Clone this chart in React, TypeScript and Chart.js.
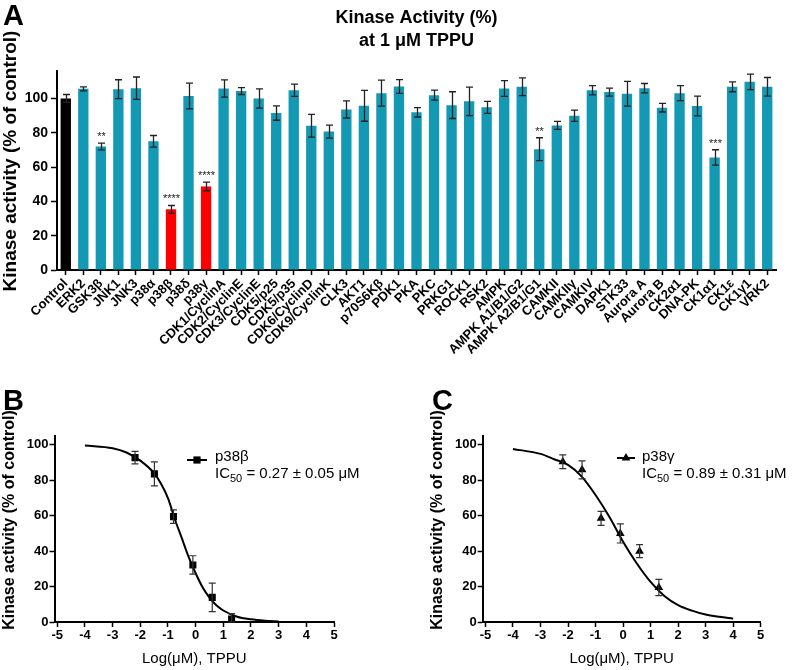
import React, { useEffect, useRef } from 'react';
import { Chart, registerables } from 'chart.js';

Chart.register(...registerables);

const FONT = '"Liberation Sans", Arial, Helvetica, sans-serif';

// ---------- Panel A data ----------
const kinaseLabels = [
  'Control', 'ERK2', 'GSK3β', 'JNK1', 'JNK3', 'p38α', 'p38β', 'p38δ', 'p38γ',
  'CDK1/CyclinA', 'CDK2/CyclinE', 'CDK3/CyclinE', 'CDK5/p25', 'CDK5/p35', 'CDK6/CyclinD',
  'CDK9/CyclinK', 'CLK3', 'AKT1', 'p70S6Kβ', 'PDK1', 'PKA', 'PKC', 'PRKG1', 'ROCK1', 'RSK2',
  'AMPK', 'AMPK A1/B1/G2', 'AMPK A2/B1/G1', 'CAMKII', 'CAMKIIγ', 'CAMKIV', 'DAPK1', 'STK33',
  'Aurora A', 'Aurora B', 'CK2α1', 'DNA-PK', 'CK1α1', 'CK1ε', 'CK1γ1', 'VRK2',
];
const kinaseActivity = [
  100, 105.6, 72, 105.4, 106, 75, 35.4, 101.4, 48.7,
  105.8, 104.3, 100, 91.5, 104.8, 84.1,
  80.7, 93.6, 95.7, 103.1, 107, 91.9, 101.9, 96.1, 98.3, 94.8,
  105.8, 106.8, 70.4, 84.3, 89.9, 104.8, 103.7, 102.7,
  106, 94.6, 103.1, 95.6, 65.6, 106.8, 109.7, 106.8,
];
const kinaseError = [
  2.3, 1.2, 2, 5.5, 6.5, 3.4, 2.2, 7.5, 2.5,
  5, 2, 5.6, 4.2, 3.6, 6.6,
  3.8, 5, 9, 7.6, 4, 2.7, 2.9, 7.8, 8.3, 3.5,
  4.6, 5.2, 6.7, 2.3, 3.3, 2.7, 2.3, 7.2,
  2.7, 2.5, 4.4, 5.7, 4.5, 2.9, 4.5, 5.4,
];
const kinaseSignificance = [
  '', '', '**', '', '', '', '****', '', '****',
  '', '', '', '', '', '',
  '', '', '', '', '', '', '', '', '', '',
  '', '', '**', '', '', '', '', '',
  '', '', '', '', '***', '', '', '',
];
const controlKinase = 'Control';
const highlightedKinases = ['p38β', 'p38γ'];
const activityTicks = [0, 20, 40, 60, 80, 100];

// ---------- Panels B / C data ----------
const logConcentration = [-2.19, -1.49, -0.8, -0.1, 0.6, 1.3];
const logTicks = [-5, -4, -3, -2, -1, 0, 1, 2, 3, 4, 5];
const doseTicks = [0, 20, 40, 60, 80, 100];

const p38betaActivity = [92.8, 83.6, 59.5, 32.2, 13.9, 1.7];
const p38betaError = [3.5, 6.8, 3.8, 5.2, 8.0, 3.0];
const p38betaFitX = [-4, -3, -2.5, -2, -1.5, -1.25, -1, -0.75, -0.5, -0.25, 0, 0.25, 0.5, 0.75, 1, 1.5, 2, 2.5, 3];
const p38betaFitY = [99.6, 98.1, 95.7, 91.1, 84.0, 78.0, 69.9, 58.0, 47.3, 36.6, 27.5, 19.6, 13.8, 9.4, 6.5, 3.0, 1.5, 0.7, 0.3];

const p38gammaActivity = [90.5, 85.9, 58.5, 50.0, 40.0, 19.5];
const p38gammaError = [3.9, 5.1, 4.0, 5.4, 3.7, 4.6];
const p38gammaFitX = [-4, -3, -2.5, -2, -1.5, -1, -0.5, 0, 0.5, 1, 1.5, 2, 2.5, 3, 3.5, 4];
const p38gammaFitY = [97.7, 94.9, 91.9, 88.7, 82.1, 71.7, 59.4, 45.3, 33.0, 22.6, 14.7, 9.5, 6.4, 4.2, 2.9, 1.9];

const TEAL = '#1399b3';

function drawRotated(ctx: CanvasRenderingContext2D, text: string, x: number, y: number, font: string) {
  ctx.save();
  ctx.translate(x, y);
  ctx.rotate(-Math.PI / 2);
  ctx.font = font;
  ctx.fillStyle = '#000';
  ctx.textAlign = 'center';
  ctx.textBaseline = 'middle';
  ctx.fillText(text, 0, 0);
  ctx.restore();
}

function drawLetter(ctx: CanvasRenderingContext2D, letter: string, x: number, y: number) {
  ctx.save();
  ctx.font = `bold 29px ${FONT}`;
  ctx.fillStyle = '#000';
  ctx.textAlign = 'left';
  ctx.textBaseline = 'alphabetic';
  ctx.fillText(letter, x, y);
  ctx.restore();
}

function buildBarChart(canvas: HTMLCanvasElement) {
  const colors = kinaseLabels.map((k) =>
    k === controlKinase ? '#000000' : highlightedKinases.includes(k) ? '#ff0000' : TEAL
  );
  const plugin = {
    id: 'panelA',
    afterDatasetsDraw(chart: any) {
      const { ctx, scales, chartArea } = chart;
      const x = scales.x;
      const y = scales.y;
      ctx.save();
      ctx.strokeStyle = '#222';
      ctx.lineWidth = 1.3;
      kinaseActivity.forEach((v, i) => {
        const cx = Math.round(x.getPixelForValue(i)) + 0.5;
        const top = y.getPixelForValue(v + kinaseError[i]);
        const bot = y.getPixelForValue(v - kinaseError[i]);
        ctx.beginPath();
        ctx.moveTo(cx, top);
        ctx.lineTo(cx, bot);
        ctx.moveTo(cx - 3.5, top);
        ctx.lineTo(cx + 3.5, top);
        ctx.moveTo(cx - 3.5, bot);
        ctx.lineTo(cx + 3.5, bot);
        ctx.stroke();
        if (kinaseSignificance[i]) {
          ctx.fillStyle = '#222';
          ctx.font = `11px ${FONT}`;
          ctx.textAlign = 'center';
          ctx.textBaseline = 'alphabetic';
          ctx.fillText(kinaseSignificance[i], cx, top - 3);
        }
      });
      ctx.restore();

      // title
      const midX = (chartArea.left + chartArea.right) / 2;
      ctx.save();
      ctx.fillStyle = '#000';
      ctx.font = `bold 18px ${FONT}`;
      ctx.textAlign = 'center';
      ctx.textBaseline = 'alphabetic';
      ctx.fillText('Kinase Activity (%)', midX, 23);
      ctx.fillText('at 1 μM TPPU', midX, 45.5);
      ctx.restore();

      drawRotated(ctx, 'Kinase activity (% of control)', 11, 161, `bold 19px ${FONT}`);
      drawLetter(ctx, 'A', 3, 25);
    },
  };

  return new Chart(canvas, {
    type: 'bar',
    data: {
      labels: kinaseLabels,
      datasets: [
        {
          data: kinaseActivity,
          backgroundColor: colors,
          borderWidth: 0,
          barPercentage: 0.59,
          categoryPercentage: 1,
        },
      ],
    },
    options: {
      animation: false,
      responsive: false,
      layout: { padding: { top: 71, right: 24, left: 0, bottom: 0 } },
      plugins: { legend: { display: false }, tooltip: { enabled: false }, title: { display: false } },
      scales: {
        x: {
          offset: true,
          grid: {
            offset: false,
            drawOnChartArea: false,
            drawTicks: true,
            tickLength: 5,
            color: '#000',
            tickColor: '#000',
            tickWidth: 1.5,
          },
          border: { display: true, color: '#000', width: 2 },
          ticks: {
            autoSkip: false,
            minRotation: 45,
            maxRotation: 45,
            padding: 1,
            color: '#000',
            font: { family: FONT, size: 13, weight: 'bold' },
          },
          afterFit: (s: any) => {
            s.height = 100;
          },
        },
        y: {
          min: 0,
          max: 116,
          afterBuildTicks: (s: any) => {
            s.ticks = activityTicks.map((v) => ({ value: v }));
          },
          grid: {
            drawOnChartArea: false,
            drawTicks: true,
            tickLength: 6,
            color: '#000',
            tickColor: '#000',
            tickWidth: 1.5,
          },
          border: { display: true, color: '#000', width: 2 },
          ticks: {
            padding: 3,
            color: '#000',
            font: { family: FONT, size: 14, weight: 'bold' },
          },
          afterFit: (s: any) => {
            s.width = 57;
          },
        },
      },
    } as any,
    plugins: [plugin],
  });
}

interface DoseOpts {
  fitX: number[];
  fitY: number[];
  mean: number[];
  err: number[];
  pointStyle: string;
  pointRadius: number;
  yAxisWidth: number;
  padRight: number;
  letter: string;
  letterX: number;
  yTitleX: number;
  legendX0: number;
  legendX1: number;
  legendY: number;
  textX: number;
  name: string;
  ic50: string;
}

function buildDoseChart(canvas: HTMLCanvasElement, o: DoseOpts) {
  const plugin = {
    id: 'dose' + o.letter,
    afterDatasetsDraw(chart: any) {
      const { ctx, scales } = chart;
      const x = scales.x;
      const y = scales.y;
      ctx.save();
      ctx.strokeStyle = '#333';
      ctx.lineWidth = 1.2;
      o.mean.forEach((v, i) => {
        const cx = x.getPixelForValue(logConcentration[i]);
        const top = y.getPixelForValue(v + o.err[i]);
        const bot = y.getPixelForValue(Math.max(v - o.err[i], 0));
        ctx.beginPath();
        ctx.moveTo(cx, top);
        ctx.lineTo(cx, bot);
        ctx.moveTo(cx - 3.5, top);
        ctx.lineTo(cx + 3.5, top);
        ctx.moveTo(cx - 3.5, bot);
        ctx.lineTo(cx + 3.5, bot);
        ctx.stroke();
      });
      ctx.restore();

      // legend
      ctx.save();
      ctx.strokeStyle = '#000';
      ctx.lineWidth = 2;
      ctx.beginPath();
      ctx.moveTo(o.legendX0, o.legendY);
      ctx.lineTo(o.legendX1, o.legendY);
      ctx.stroke();
      const mx = (o.legendX0 + o.legendX1) / 2;
      ctx.fillStyle = '#000';
      ctx.beginPath();
      if (o.pointStyle === 'rect') {
        ctx.rect(mx - 3.6, o.legendY - 3.6, 7.2, 7.2);
      } else {
        const r = o.pointRadius;
        ctx.moveTo(mx, o.legendY - r);
        ctx.lineTo(mx + r * 0.866, o.legendY + r * 0.5);
        ctx.lineTo(mx - r * 0.866, o.legendY + r * 0.5);
        ctx.closePath();
      }
      ctx.fill();

      ctx.textAlign = 'left';
      ctx.textBaseline = 'alphabetic';
      ctx.font = `15px ${FONT}`;
      ctx.fillText(o.name, o.textX, 81);
      let tx = o.textX;
      ctx.fillText('IC', tx, 98);
      tx += ctx.measureText('IC').width;
      ctx.font = `11px ${FONT}`;
      ctx.fillText('50', tx, 102);
      tx += ctx.measureText('50').width;
      ctx.font = `15px ${FONT}`;
      ctx.fillText(' = ' + o.ic50, tx, 98);
      ctx.restore();

      drawRotated(ctx, 'Kinase activity (% of control)', o.yTitleX, 140, `bold 16px ${FONT}`);
      drawLetter(ctx, o.letter, o.letterX, 30);
    },
  };

  return new Chart(canvas, {
    type: 'scatter',
    data: {
      datasets: [
        {
          data: o.fitX.map((v, i) => ({ x: v, y: o.fitY[i] })),
          showLine: true,
          pointRadius: 0,
          borderColor: '#000',
          borderWidth: 2,
          cubicInterpolationMode: 'monotone',
          fill: false,
        },
        {
          data: logConcentration.map((v, i) => ({ x: v, y: o.mean[i] })),
          showLine: false,
          pointStyle: o.pointStyle,
          pointRadius: o.pointRadius,
          backgroundColor: '#000',
          borderColor: '#000',
          borderWidth: 0,
        },
      ],
    },
    options: {
      animation: false,
      responsive: false,
      layout: { padding: { top: 56, right: o.padRight, left: 0, bottom: 2 } },
      plugins: { legend: { display: false }, tooltip: { enabled: false } },
      scales: {
        x: {
          type: 'linear',
          min: -5.1,
          max: 5,
          afterBuildTicks: (s: any) => {
            s.ticks = logTicks.map((v) => ({ value: v }));
          },
          grid: {
            drawOnChartArea: false,
            drawTicks: true,
            tickLength: 5,
            color: '#000',
            tickColor: '#000',
            tickWidth: 1.5,
          },
          border: { display: true, color: '#000', width: 2 },
          ticks: {
            padding: 1,
            color: '#000',
            font: { family: FONT, size: 13, weight: 'bold' },
          },
          title: {
            display: true,
            text: 'Log(μM), TPPU',
            color: '#000',
            padding: 0,
            font: { family: FONT, size: 15, weight: 'normal' },
          },
          afterFit: (s: any) => {
            s.height = 46;
          },
        },
        y: {
          min: 0,
          max: 105,
          afterBuildTicks: (s: any) => {
            s.ticks = doseTicks.map((v) => ({ value: v }));
          },
          grid: {
            drawOnChartArea: false,
            drawTicks: true,
            tickLength: 5,
            color: '#000',
            tickColor: '#000',
            tickWidth: 1.5,
          },
          border: { display: true, color: '#000', width: 2 },
          ticks: {
            padding: 1,
            color: '#000',
            font: { family: FONT, size: 13, weight: 'bold' },
          },
          afterFit: (s: any) => {
            s.width = o.yAxisWidth;
          },
        },
      },
    } as any,
    plugins: [plugin],
  });
}

function ChartCanvas(props: {
  left: number;
  top: number;
  width: number;
  height: number;
  build: (c: HTMLCanvasElement) => Chart;
}) {
  const ref = useRef<HTMLCanvasElement>(null);
  useEffect(() => {
    const chart = props.build(ref.current as HTMLCanvasElement);
    return () => chart.destroy();
  }, []);
  return (
    <canvas
      ref={ref}
      width={props.width}
      height={props.height}
      style={{ position: 'absolute', left: props.left, top: props.top, width: props.width, height: props.height }}
    />
  );
}

export default function App() {
  return (
    <div style={{ position: 'absolute', left: 0, top: 0, width: 800, height: 670, background: '#fff', overflow: 'hidden' }}>
      <ChartCanvas left={0} top={0} width={800} height={370} build={buildBarChart} />
      <ChartCanvas
        left={0}
        top={380}
        width={400}
        height={290}
        build={(c) =>
          buildDoseChart(c, {
            fitX: p38betaFitX,
            fitY: p38betaFitY,
            mean: p38betaActivity,
            err: p38betaError,
            pointStyle: 'rect',
            pointRadius: 5,
            yAxisWidth: 54.5,
            padRight: 66,
            letter: 'B',
            letterX: 3,
            yTitleX: 10,
            legendX0: 187,
            legendX1: 207,
            legendY: 80,
            textX: 215,
            name: 'p38β',
            ic50: '0.27 ± 0.05 μM',
          })
        }
      />
      <ChartCanvas
        left={400}
        top={380}
        width={400}
        height={290}
        build={(c) =>
          buildDoseChart(c, {
            fitX: p38gammaFitX,
            fitY: p38gammaFitY,
            mean: p38gammaActivity,
            err: p38gammaError,
            pointStyle: 'triangle',
            pointRadius: 5,
            yAxisWidth: 82.7,
            padRight: 39.3,
            letter: 'C',
            letterX: 32,
            yTitleX: 37.5,
            legendX0: 217,
            legendX1: 235,
            legendY: 78,
            textX: 242,
            name: 'p38γ',
            ic50: '0.89 ± 0.31 μM',
          })
        }
      />
    </div>
  );
}
